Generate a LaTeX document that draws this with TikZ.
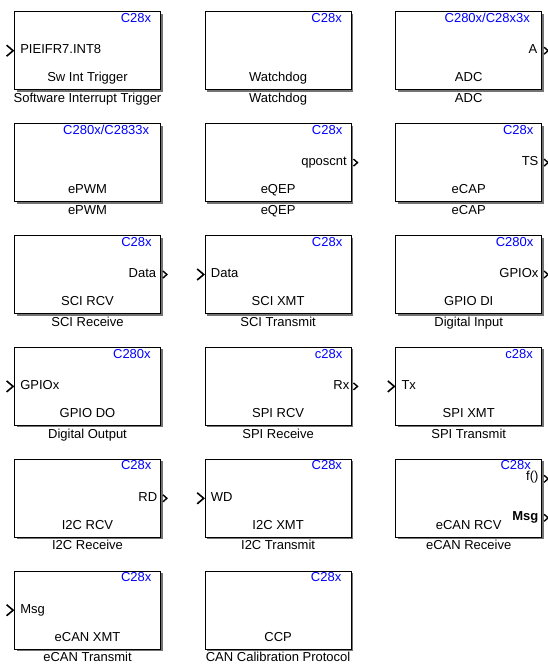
\documentclass[tikz,border=0pt]{standalone}
\usepackage{fontspec}
\setmainfont{Liberation Sans}
\usetikzlibrary{positioning,shadows}

\begin{document}
\begin{tikzpicture}[%
        x=1pt, y=1pt,
        node distance=33.1pt and 43.8pt,
        every node/.style={font=\fontsize{13}{15}\selectfont},
        block/.style={%
          rectangle,
          draw,
          line width=0.8pt,
          fill=white,
          minimum width=146pt,
          minimum height=78pt,
          inner sep=0pt,
          drop shadow={shadow xshift=2pt,shadow yshift=-2pt,fill=black!55,opacity=1}
        },
        txt/.style={inner sep=0pt, text height=9.5pt, text depth=3pt},
        blkname/.style={txt, text depth=0pt},
        chip/.style={txt, text=blue},
        inport/.style={line width=1.6pt, line join=miter},
        outport/.style={line width=1.4pt, line join=miter}
      ]
      \useasboundingbox (0,0) rectangle (547,-664);

      \node[block] (1) at (87.5,-50.7) {};
      \node[block] (2) [right=of 1] {};
      \node[block] (3) [right=of 2] {};
      \node[block] (4) [below=of 1] {};
      \node[block] (5) [right=of 4] {};
      \node[block] (6) [right=of 5] {};
      \node[block] (7) [below=of 4] {};
      \node[block] (8) [right=of 7] {};
      \node[block] (9) [right=of 8] {};
      \node[block] (10) [below=of 7] {};
      \node[block] (11) [right=of 10] {};
      \node[block] (12) [right=of 11] {};
      \node[block] (13) [below=of 10] {};
      \node[block] (14) [right=of 13] {};
      \node[block] (15) [right=of 14] {};
      \node[block] (16) [below=of 13] {};
      \node[block] (17) [right=of 16] {};

      % target tags
      \node[chip] (1a) [below left=1.3pt and 9.5pt of 1.north east] {C28x};
      \node[chip] (2a) [below left=1.3pt and 9.5pt of 2.north east] {C28x};
      \node[chip] (3a) [below left=1.3pt and 12pt of 3.north east] {C280x/C28x3x};
      \node[chip] (4a) [below left=1.3pt and 11.5pt of 4.north east] {C280x/C2833x};
      \node[chip] (5a) [below left=1.3pt and 9pt of 5.north east] {C28x};
      \node[chip] (6a) [below left=1.3pt and 8.5pt of 6.north east] {C28x};
      \node[chip] (7a) [below left=1.3pt and 9pt of 7.north east] {C28x};
      \node[chip] (8a) [below left=1.3pt and 9pt of 8.north east] {C28x};
      \node[chip] (9a) [below left=1.3pt and 8.5pt of 9.north east] {C280x};
      \node[chip] (10a) [below left=1.3pt and 10pt of 10.north east] {C280x};
      \node[chip] (11a) [below left=1.3pt and 9pt of 11.north east] {c28x};
      \node[chip] (12a) [below left=1.3pt and 9pt of 12.north east] {c28x};
      \node[chip] (13a) [below left=1.3pt and 9.3pt of 13.north east] {C28x};
      \node[chip] (14a) [below left=1.3pt and 9.3pt of 14.north east] {C28x};
      \node[chip] (15a) [below left=0.5pt and 11pt of 15.north east] {C28x};
      \node[chip] (16a) [below left=1.3pt and 9.3pt of 16.north east] {C28x};
      \node[chip] (17a) [below left=1.3pt and 10pt of 17.north east] {C28x};

      % block titles
      \node[txt] (1b) [above=5pt of 1.south] {Sw Int Trigger};
      \node[txt] (2b) [above=5pt of 2.south] {Watchdog};
      \node[txt] (3b) [above=5pt of 3.south] {ADC};
      \node[txt] (4b) [above=5pt of 4.south] {ePWM};
      \node[txt] (5b) [above=5pt of 5.south] {eQEP};
      \node[txt] (6b) [above=5pt of 6.south] {eCAP};
      \node[txt] (7b) [above=5pt of 7.south] {SCI RCV};
      \node[txt] (8b) [above=5pt of 8.south] {SCI XMT};
      \node[txt] (9b) [above=5pt of 9.south] {GPIO DI};
      \node[txt] (10b) [above=5pt of 10.south] {GPIO DO};
      \node[txt] (11b) [above=5pt of 11.south] {SPI RCV};
      \node[txt] (12b) [above=5pt of 12.south] {SPI XMT};
      \node[txt] (13b) [above=5pt of 13.south] {I2C RCV};
      \node[txt] (14b) [above=5pt of 14.south] {I2C XMT};
      \node[txt] (15b) [above=5pt of 15.south] {eCAN RCV};
      \node[txt] (16b) [above=5pt of 16.south] {eCAN XMT};
      \node[txt] (17b) [above=5pt of 17.south] {CCP};

      % names under the blocks
      \node[blkname] (1c) [below=2.5pt of 1.south] {Software Interrupt Trigger};
      \node[blkname] (2c) [below=2.5pt of 2.south] {Watchdog};
      \node[blkname] (3c) [below=2.5pt of 3.south] {ADC};
      \node[blkname] (4c) [below=2.5pt of 4.south] {ePWM};
      \node[blkname] (5c) [below=2.5pt of 5.south] {eQEP};
      \node[blkname] (6c) [below=2.5pt of 6.south] {eCAP};
      \node[blkname] (7c) [below=2.5pt of 7.south] {SCI Receive};
      \node[blkname] (8c) [below=2.5pt of 8.south] {SCI Transmit};
      \node[blkname] (9c) [below=2.5pt of 9.south] {Digital Input};
      \node[blkname] (10c) [below=2.5pt of 10.south] {Digital Output};
      \node[blkname] (11c) [below=2.5pt of 11.south] {SPI Receive};
      \node[blkname] (12c) [below=2.5pt of 12.south] {SPI Transmit};
      \node[blkname] (13c) [below=2.5pt of 13.south] {I2C Receive};
      \node[blkname] (14c) [below=2.5pt of 14.south] {I2C Transmit};
      \node[blkname] (15c) [below=2.5pt of 15.south] {eCAN Receive};
      \node[blkname] (16c) [below=2.5pt of 16.south] {eCAN Transmit};
      \node[blkname] (17c) [below=2.5pt of 17.south] {CAN Calibration Protocol};

      % port names
      \node[txt] (1p) [right=6pt of 1.west] {PIEIFR7.INT8};
      \node[txt] (3p) [left=4.5pt of 3.east] {A};
      \node[txt] (5p) [left=4.5pt of 5.east] {qposcnt};
      \node[txt] (6p) [left=3.5pt of 6.east] {TS};
      \node[txt] (7p) [left=4.5pt of 7.east] {Data};
      \node[txt] (8p) [right=6pt of 8.west] {Data};
      \node[txt] (9p) [left=3.5pt of 9.east] {GPIOx};
      \node[txt] (10p) [right=6pt of 10.west] {GPIOx};
      \node[txt] (11p) [left=2pt of 11.east] {Rx};
      \node[txt] (12p) [right=6pt of 12.west] {Tx};
      \node[txt] (13p) [left=3.5pt of 13.east] {RD};
      \node[txt] (14p) [right=6pt of 14.west] {WD};
      \node[txt] (15p) [below left=12pt and 3.5pt of 15.north east] {f()};
      \node[txt,font=\fontsize{13}{15}\selectfont\bfseries] (15q) [above left=14pt and 3.5pt of 15.south east] {Msg};
      \node[txt] (16p) [right=6pt of 16.west] {Msg};

      % port marks
      \draw[inport] (1.west) ++(-7.5,5.5) -- ++(6.5,-5.5) -- ++(-6.5,-5.5);
      \draw[inport] (8.west) ++(-7.5,5.5) -- ++(6.5,-5.5) -- ++(-6.5,-5.5);
      \draw[inport] (10.west) ++(-7.5,5.5) -- ++(6.5,-5.5) -- ++(-6.5,-5.5);
      \draw[inport] (12.west) ++(-7.5,5.5) -- ++(6.5,-5.5) -- ++(-6.5,-5.5);
      \draw[inport] (14.west) ++(-7.5,5.5) -- ++(6.5,-5.5) -- ++(-6.5,-5.5);
      \draw[inport] (16.west) ++(-7.5,5.5) -- ++(6.5,-5.5) -- ++(-6.5,-5.5);
      \draw[outport] (3.east) ++(2,3.5) -- ++(4,-3.5) -- ++(-4,-3.5);
      \draw[outport] (5.east) ++(2,3.5) -- ++(4,-3.5) -- ++(-4,-3.5);
      \draw[outport] (6.east) ++(2,3.5) -- ++(4,-3.5) -- ++(-4,-3.5);
      \draw[outport] (7.east) ++(2,3.5) -- ++(4,-3.5) -- ++(-4,-3.5);
      \draw[outport] (9.east) ++(2,3.5) -- ++(4,-3.5) -- ++(-4,-3.5);
      \draw[outport] (11.east) ++(2,3.5) -- ++(4,-3.5) -- ++(-4,-3.5);
      \draw[outport] (13.east) ++(2,3.5) -- ++(4,-3.5) -- ++(-4,-3.5);
      \draw[outport] (15.east) ++(2,23) -- ++(4,-3.5) -- ++(-4,-3.5);
      \draw[outport] (15.east) ++(2,-16) -- ++(4,-3.5) -- ++(-4,-3.5);

    \end{tikzpicture}
\end{document}
